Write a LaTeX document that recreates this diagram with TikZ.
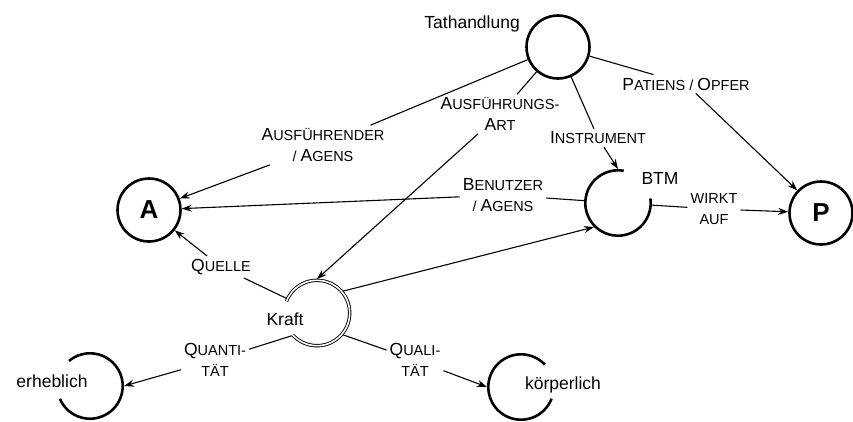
\documentclass[tikz,border=0pt]{standalone}
\usepackage{fontspec}
\setmainfont{Liberation Sans}
\usetikzlibrary{arrows.meta}
\newcommand\gross[1]{{\fontsize{17.5}{21}\selectfont #1}}

\begin{document}
\begin{tikzpicture}[x=1pt,y=-1pt,
    ding/.style={circle,draw,line width=2.6pt,minimum size=63pt,inner sep=0pt,font=\fontsize{26}{26}\selectfont\bfseries},
    offen/.style={circle,minimum size=68pt,inner sep=0pt,outer sep=0pt},
    rolle/.style={align=center,inner sep=3pt,font=\fontsize{14.5}{21}\selectfont},
    wort/.style={inner sep=1pt,font=\fontsize{17.5}{21}\selectfont},
    linie/.style={line width=1.1pt},
    pfeil/.style={linie,-{Stealth[length=10pt,width=7pt]}},
    bogen/.style={line width=2.6pt}]
  \useasboundingbox (0,0) rectangle (853,421);
  \node[ding] (tat) at (558,47) {};
  \node[ding] (a) at (149,210) {A};
  \node[ding] (p) at (821,213) {P};
  \node[offen] (btm) at (618,203) {};
  \node[offen] (kraft) at (317,313) {};
  \node[offen] (erh) at (90,386) {};
  \node[offen] (koerp) at (521,387) {};
  \draw[bogen] (btm.center) ++(80:32.7pt) arc[start angle=80,end angle=368,radius=32.7pt];
  \draw[line width=0.9pt,double,double distance=1.6pt] (kraft.center) ++(-138:32.7pt) arc[start angle=-138,end angle=159,radius=32.7pt];
  \draw[bogen] (erh.center) ++(-157:32.7pt) arc[start angle=-157,end angle=130,radius=32.7pt];
  \draw[bogen] (koerp.center) ++(43:32.7pt) arc[start angle=43,end angle=339,radius=32.7pt];

  \node[wort,anchor=east] (tatname) at (521,24) {Tathandlung};
  \node[wort] (btmname) at (660,178) {BTM};
  \node[wort] (kraftname) at (285,319) {Kraft};
  \node[wort] (erhname) at (52,381) {erheblich};
  \node[wort] (koerpname) at (563,385) {körperlich};

  \node[rolle] (ausf) at (323,145) {\gross{A}USFÜHRENDER\\/ \gross{A}GENS};
  \node[rolle] (art) at (500,114) {\gross{A}USFÜHRUNGS-\\\gross{A}RT};
  \node[rolle] (instr) at (598,138) {\gross{I}NSTRUMENT};
  \node[rolle] (pat) at (686,84) {\gross{P}ATIENS / \gross{O}PFER};
  \node[rolle] (ben) at (503,195) {\gross{B}ENUTZER\\/ \gross{A}GENS};
  \node[rolle] (wirkt) at (714,209) {WIRKT\\AUF};
  \node[rolle] (quelle) at (221,267) {\gross{Q}UELLE};
  \node[rolle] (quanti) at (215,360) {\gross{Q}UANTI-\\TÄT};
  \node[rolle] (quali) at (415,360) {\gross{Q}UALI-\\TÄT};

  \draw[linie] (tat) -- (ausf);
  \draw[pfeil] (ausf) -- (a);
  \draw[linie] (tat) -- (art);
  \draw[pfeil] (art) -- (kraft.north);
  \draw[linie] (tat) -- (instr);
  \draw[pfeil] (instr) -- (btm.north);
  \draw[linie] (tat) -- (pat);
  \draw[pfeil] (pat) -- (p);
  \draw[linie] (btm) -- (ben);
  \draw[pfeil] (ben) -- (a);
  \draw[linie] (btm) -- (wirkt);
  \draw[pfeil] (wirkt) -- (p);
  \draw[pfeil] (kraft.40) -- (btm.225);
  \draw[linie] (kraft) -- (quelle);
  \draw[pfeil] (quelle) -- (a);
  \draw[linie] (kraft.222) -- (quanti);
  \draw[pfeil] (quanti) -- (erh.east);
  \draw[linie] (kraft.-40) -- (quali);
  \draw[pfeil] (quali) -- (koerp.west);
\end{tikzpicture}
\end{document}
